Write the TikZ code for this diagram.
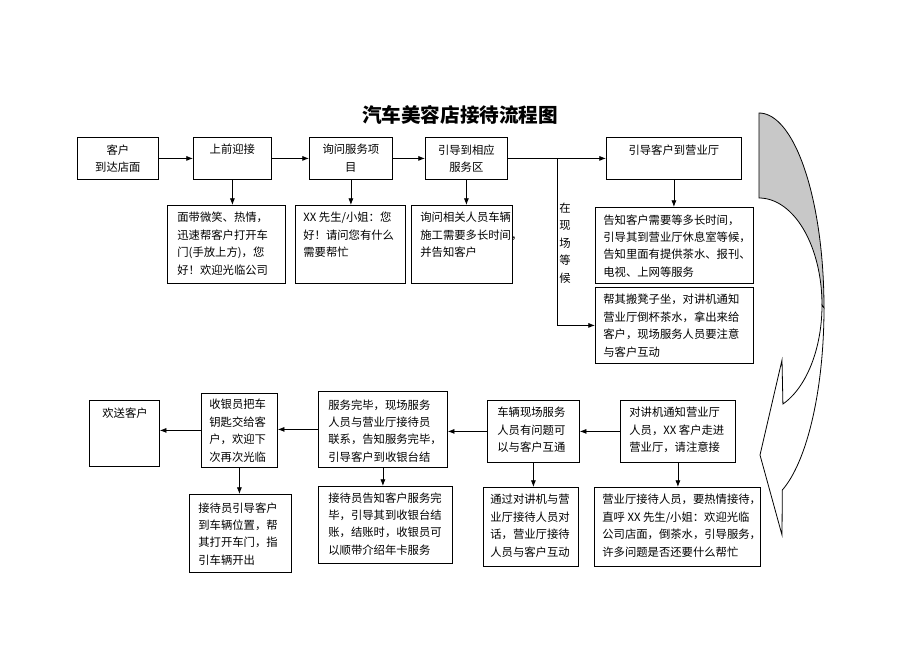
\documentclass[tikz,border=0pt]{standalone}
\usepackage{fontspec}
\setmainfont{Noto Sans CJK SC}
\usetikzlibrary{arrows.meta}
\newcommand\boxfont{\fontsize{8.5pt}{13.1pt}\selectfont}
\newcommand\flowbox[7]{%
  \pgfmathsetmacro\fbw{(#4-#2)*0.75}%
  \pgfmathsetmacro\fbh{(#5-#3)*0.75}%
  \pgfmathsetmacro\fbt{#6*0.75}%
  \node[boxst] (#1) at (#2,#3) {\parbox[c][\fbh pt][t]{\fbw pt}{\vspace*{\fbt pt}\boxfont #7}};%
}
\definecolor{arrowgray}{HTML}{C8C8C8}
\begin{document}
\begin{tikzpicture}[x=0.75pt,y=-0.75pt,
  boxst/.style={draw=black, line width=0.6pt, inner sep=0pt, fill=white, anchor=north west},
  arr/.style={-{Latex[length=5pt,width=3.8pt]}, line width=0.6pt, draw=black}]
\useasboundingbox (0,0) rectangle (920,651);
\fill[white] (0,0) rectangle (920,651);

% title
\node[font=\fontsize{14.7pt}{16pt}\selectfont\bfseries, inner sep=0pt] (title) at (460,115) {汽车美容店接待流程图};

% top row
\flowbox{a}{77}{137}{158}{179}{7}{\centering 客户\\到达店面}
\flowbox{b}{193}{137}{271}{179}{7}{\centering 上前迎接}
\flowbox{c}{309}{137}{392}{179}{7}{\centering 询问服务项\\目}
\flowbox{d}{425}{137}{507}{179}{7}{\centering 引导到相应\\服务区}
\flowbox{e}{606}{137}{741}{179}{7}{\centering 引导客户到营业厅}

% top descriptions
\flowbox{d1}{167}{205}{285}{283}{7}{\raggedright\leftskip=7.5pt 面带微笑、热情，\\迅速帮客户打开车\\门(手放上方)，您\\好！欢迎光临公司}
\flowbox{d2}{295}{205}{405}{283}{7}{\raggedright\leftskip=6pt XX~先生/小姐：您\\好！请问您有什么\\需要帮忙}
\flowbox{d3}{411}{205}{512}{283}{7}{\raggedright\leftskip=6.75pt 询问相关人员车辆\\施工需要多长时间，\\并告知客户}
\flowbox{e1}{595}{207}{753}{283}{7}{\raggedright\leftskip=6pt 告知客户需要等多长时间，\\引导其到营业厅休息室等候，\\告知里面有提供茶水、报刊、\\电视、上网等服务}
\flowbox{e2}{595}{287}{753}{363}{7}{\raggedright\leftskip=6pt 帮其搬凳子坐，对讲机通知\\营业厅倒杯茶水，拿出来给\\客户，现场服务人员要注意\\与客户互动}

\node[font=\boxfont, align=center, inner sep=0pt] (wait) at (565,243) {在\\现\\场\\等\\候};

% bottom row
\flowbox{hs}{89}{400}{159}{466}{7}{\raggedright\leftskip=9.75pt 欢送客户}
\flowbox{sy}{201}{393}{277}{467}{6}{\raggedright\leftskip=6pt 收银员把车\\钥匙交给客\\户，欢迎下\\次再次光临}
\flowbox{fw}{318}{391}{447}{467}{8}{\raggedright\leftskip=7.5pt 服务完毕，现场服务\\人员与营业厅接待员\\联系，告知服务完毕，\\引导客户到收银台结}
\flowbox{cl}{487}{400}{579}{462}{7}{\raggedright\leftskip=7.5pt 车辆现场服务\\人员有问题可\\以与客户互通}
\flowbox{tj}{620}{400}{735}{462}{7}{\raggedright\leftskip=6.75pt 对讲机通知营业厅\\人员，XX~客户走进\\营业厅，请注意接}

% bottom descriptions
\flowbox{yd}{189}{494}{291}{572}{8}{\raggedright\leftskip=6.75pt 接待员引导客户\\到车辆位置，帮\\其打开车门，指\\引车辆开出}
\flowbox{gz}{318}{486}{452}{563}{6}{\raggedright\leftskip=7.5pt 接待员告知客户服务完\\毕，引导其到收银台结\\账，结账时，收银员可\\以顺带介绍年卡服务}
\flowbox{tg}{483}{487}{578}{566}{7}{\raggedright\leftskip=5.25pt 通过对讲机与营\\业厅接待人员对\\话，营业厅接待\\人员与客户互动}
\flowbox{yt}{594}{487}{760}{566}{7}{\raggedright\leftskip=6pt 营业厅接待人员，要热情接待，\\直呼~XX~先生/小姐：欢迎光临\\公司店面，倒茶水，引导服务，\\许多问题是否还要什么帮忙}

% top connectors
\draw[arr] (a.east) -- (b.west);
\draw[arr] (b.east) -- (c.west);
\draw[arr] (c.east) -- (d.west);
\draw[arr] (d.east) -- (e.west);
\draw[arr] (b.south) -- (b.south |- d1.north);
\draw[arr] (c.south) -- (c.south |- d2.north);
\draw[arr] (d.south) -- (d.south |- d3.north);
\draw[arr] (e.south) -- (e.south |- e1.north);
\coordinate (br) at (557,158);
\draw[arr] (br) |- (e2.west);

% bottom connectors
\draw[arr] (tj.west) -- (tj.west -| cl.east);
\draw[arr] (cl.west) -- (cl.west -| fw.east);
\draw[arr] (fw.west) -- (fw.west -| sy.east);
\draw[arr] (sy.west) -- (sy.west -| hs.east);
\draw[arr] (tj.south) -- (tj.south |- yt.north);
\draw[arr] (cl.south) -- (cl.south |- tg.north);
\draw[arr] (fw.south) -- (fw.south |- gz.north);
\draw[arr] (sy.south) -- (sy.south |- yd.north);

% curved arrow
\filldraw[fill=arrowgray, draw=black, line width=0.6pt]
  plot[domain=90:0, samples=40, variable=\t] ({759+65*cos(\t)},{308-195*sin(\t)})
  -- plot[domain=0:90, samples=40, variable=\t] ({759+63*cos(\t)},{305-107*sin(\t)})
  -- cycle;
\filldraw[fill=white, draw=black, line width=0.6pt]
  plot[domain=0:-69, samples=40, variable=\t] ({759+65*cos(\t)},{308-195*sin(\t)})
  -- (782,535) -- (760,455) -- (782,360)
  -- plot[domain=-67.7:0, samples=40, variable=\t] ({759+63*cos(\t)},{305-107*sin(\t)})
  -- cycle;
\end{tikzpicture}
\end{document}
